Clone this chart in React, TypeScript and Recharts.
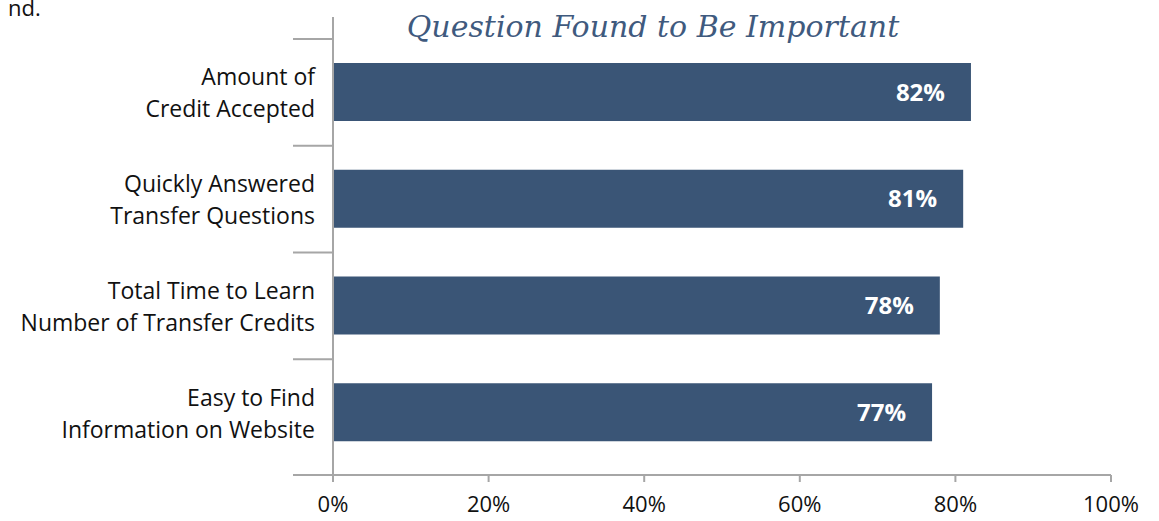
import { BarChart, Bar, XAxis, YAxis, LabelList } from 'recharts';

const categories = [
  'Amount of\nCredit Accepted',
  'Quickly Answered\nTransfer Questions',
  'Total Time to Learn\nNumber of Transfer Credits',
  'Easy to Find\nInformation on Website',
];
const importantPct = [82, 81, 78, 77];
const xTicks = [0, 20, 40, 60, 80, 100];

const data = categories.map((name, i) => ({ name, value: importantPct[i] }));

// layout
const W = 1159;
const H = 521;
const LEFT = 333;
const TOP = 17;
const BOTTOM = 475;
const RIGHT = 1111;
const PAD_TOP = 22;
const PAD_BOTTOM = 9;
const BAND = (BOTTOM - TOP - PAD_TOP - PAD_BOTTOM) / categories.length;
const AXIS = '#a6a6a6';
const FONT = '"Open Sans", sans-serif';

const CategoryTick = (props: any) => {
  const { x, y, payload, index } = props;
  const lines = String(payload.value).split('\n');
  const last = index === categories.length - 1;
  return (
    <g>
      <line x1={x - 32} x2={x + 8} y1={y - BAND / 2} y2={y - BAND / 2} stroke={AXIS} strokeWidth={2} />
      {last && <line x1={x - 32} x2={x + 8} y1={BOTTOM} y2={BOTTOM} stroke={AXIS} strokeWidth={2} />}
      {last && <line x1={x + 8} x2={x + 8} y1={BOTTOM} y2={BOTTOM + 7} stroke={AXIS} strokeWidth={2} />}
      <text x={x - 10} y={y} textAnchor="end" fontFamily={FONT} fontSize={23} fill="#111">
        {lines.map((l, i) => (
          <tspan key={i} x={x - 10} dy={i === 0 ? -7 : 32}>
            {l}
          </tspan>
        ))}
      </text>
    </g>
  );
};

export default function App() {
  return (
    <div style={{ position: 'absolute', left: 0, top: 0, width: W, height: H, background: '#fff' }}>
      <div
        style={{
          position: 'absolute',
          left: 8,
          top: -5,
          fontFamily: FONT,
          fontSize: 22,
          lineHeight: '24px',
          color: '#111',
        }}
      >
        nd.
      </div>
      <div
        style={{
          position: 'absolute',
          left: 390,
          top: 9,
          width: 526,
          textAlign: 'center',
          fontFamily: '"DejaVu Serif", serif',
          fontStyle: 'italic',
          fontSize: 30,
          lineHeight: '36px',
          color: '#3f5a7e',
          whiteSpace: 'nowrap',
          zIndex: 2,
        }}
      >
        Question Found to Be Important
      </div>
      <BarChart
        width={W}
        height={H}
        data={data}
        layout="vertical"
        margin={{ top: TOP, right: W - RIGHT, left: 0, bottom: 0 }}
        barCategoryGap={0}
      >
        <XAxis
          type="number"
          domain={[0, 100]}
          ticks={xTicks}
          interval={0}
          tickFormatter={(v) => `${v}%`}
          height={H - BOTTOM}
          axisLine={{ stroke: AXIS, strokeWidth: 2 }}
          tickLine={{ stroke: AXIS, strokeWidth: 2 }}
          tickSize={7}
          tickMargin={14}
          tick={{ fontFamily: FONT, fontSize: 22, fill: '#111' }}
        />
        <YAxis
          type="category"
          dataKey="name"
          width={LEFT}
          padding={{ top: PAD_TOP, bottom: PAD_BOTTOM }}
          axisLine={{ stroke: AXIS, strokeWidth: 2 }}
          tickLine={false}
          tick={<CategoryTick />}
          interval={0}
        />
        <Bar dataKey="value" fill="#3a5576" barSize={58} isAnimationActive={false}>
          <LabelList
            dataKey="value"
            position="insideRight"
            offset={26}
            formatter={(v: any) => `${v}%`}
            fill="#fff"
            fontFamily={FONT}
            fontWeight="bold"
            fontSize={24}
          />
        </Bar>
      </BarChart>
    </div>
  );
}
